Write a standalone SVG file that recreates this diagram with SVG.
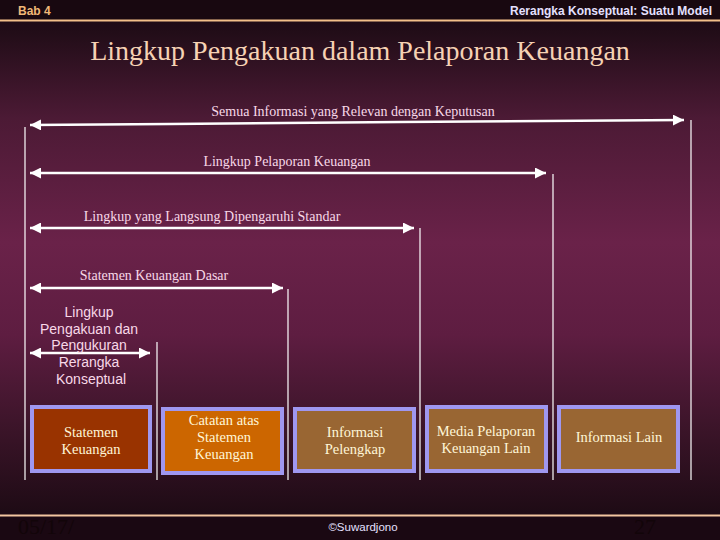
<svg xmlns="http://www.w3.org/2000/svg" width="720" height="540" viewBox="0 0 720 540">
<defs>
<linearGradient id="bg" x1="0" y1="0" x2="0" y2="1">
<stop offset="0" stop-color="#1a0812"/>
<stop offset="0.06" stop-color="#220d18"/>
<stop offset="0.22" stop-color="#4c1a35"/>
<stop offset="0.45" stop-color="#6a2249"/>
<stop offset="0.62" stop-color="#5e1d41"/>
<stop offset="0.8" stop-color="#3a1428"/>
<stop offset="0.95" stop-color="#1e0b15"/>
<stop offset="1" stop-color="#1a0812"/>
</linearGradient>
<marker id="ah" viewBox="0 0 10 10" refX="10" refY="5" markerWidth="11" markerHeight="11" markerUnits="userSpaceOnUse" orient="auto-start-reverse">
<path d="M0,0 L10,5 L0,10 Z" fill="#ffffff"/>
</marker>
<style>
.hdr{font-family:"Liberation Sans Narrow","Liberation Sans",Arial,sans-serif;font-weight:bold;font-size:12px}
.title{font-family:"Liberation Serif","Times New Roman",serif;font-size:28px;fill:#f6d2b4}
.lbl{font-family:"Liberation Serif","Times New Roman",serif;font-size:14px;fill:#f8d8e8}
.lbls{font-family:"Liberation Sans",Arial,sans-serif;font-size:14px;fill:#f8d8e8}
.arr{stroke:#ffffff;stroke-width:2.5;fill:none;marker-start:url(#ah);marker-end:url(#ah)}
.vl{stroke:#ffffff;stroke-width:1.2}
.box{stroke:#9f97f0;stroke-width:4}
.bt{font-family:"Liberation Serif","Times New Roman",serif;font-size:14.5px;fill:#fff6d8;text-anchor:middle}
.ft{font-family:"Liberation Serif","Times New Roman",serif;font-size:22px;fill:#120509}
</style>
</defs>
<rect width="720" height="540" fill="url(#bg)"/>
<rect width="720" height="20" fill="#180810"/>
<rect y="516" width="720" height="24" fill="#1a0812"/>
<line x1="0" y1="20.5" x2="720" y2="20.5" stroke="#f3c08a" stroke-width="2"/>
<line x1="0" y1="515.5" x2="720" y2="515.5" stroke="#f3c6a0" stroke-width="2"/>
<text class="hdr" x="18" y="15" fill="#f0b878">Bab 4</text>
<text class="hdr" x="712" y="15" fill="#e4e0ff" text-anchor="end">Rerangka Konseptual: Suatu Model</text>
<text class="title" x="360" y="60" text-anchor="middle">Lingkup Pengakuan dalam Pelaporan Keuangan</text>

<g id="connectors">
<line class="vl" x1="25" y1="127" x2="25" y2="480"/>
<line class="vl" x1="691" y1="120" x2="691" y2="480"/>
<line class="vl" x1="553" y1="174" x2="553" y2="480"/>
<line class="vl" x1="420" y1="228" x2="420" y2="480"/>
<line class="vl" x1="288" y1="289" x2="288" y2="480"/>
<line class="vl" x1="157" y1="342" x2="157" y2="480"/>
<polyline class="arr" points="30,125 170,124 400,122 684,120"/>
<line class="arr" x1="30" y1="173" x2="546" y2="173"/>
<line class="arr" x1="30" y1="228" x2="414" y2="228"/>
<line class="arr" x1="30" y1="288" x2="283" y2="288"/>
<line class="arr" x1="30" y1="353" x2="150" y2="353"/>
</g>

<g id="labels">
<text class="lbl" x="353" y="116" text-anchor="middle">Semua Informasi yang Relevan dengan Keputusan</text>
<text class="lbl" x="287" y="166" text-anchor="middle">Lingkup Pelaporan Keuangan</text>
<text class="lbl" x="212" y="221" text-anchor="middle">Lingkup yang Langsung Dipengaruhi Standar</text>
<text class="lbl" x="154" y="280" text-anchor="middle">Statemen Keuangan Dasar</text>
<text class="lbls" text-anchor="middle">
<tspan x="91" y="317">Lingkup</tspan>
<tspan x="91" y="334">Pengakuan dan</tspan>
<tspan x="91" y="350">Pengukuran</tspan>
<tspan x="91" y="367">Rerangka</tspan>
<tspan x="91" y="384">Konseptual</tspan>
</text>
</g>

<g id="node-statemen">
<rect class="box" x="32" y="407" width="118" height="64" fill="#993300"/>
<text class="bt"><tspan x="91" y="437">Statemen</tspan><tspan x="91" y="454">Keuangan</tspan></text>
</g>
<g id="node-catatan">
<rect class="box" x="163" y="409" width="119" height="64" fill="#cc6600"/>
<text class="bt"><tspan x="224" y="425">Catatan atas</tspan><tspan x="224" y="442">Statemen</tspan><tspan x="224" y="459">Keuangan</tspan></text>
</g>
<g id="node-pelengkap">
<rect class="box" x="295" y="409" width="119" height="62" fill="#996633"/>
<text class="bt"><tspan x="355" y="437">Informasi</tspan><tspan x="355" y="454">Pelengkap</tspan></text>
</g>
<g id="node-media">
<rect class="box" x="427" y="407" width="119" height="64" fill="#996633"/>
<text class="bt"><tspan x="486" y="436">Media Pelaporan</tspan><tspan x="486" y="453">Keuangan Lain</tspan></text>
</g>
<g id="node-lain">
<rect class="box" x="559" y="407" width="119" height="64" fill="#996633"/>
<text class="bt"><tspan x="619" y="442">Informasi Lain</tspan></text>
</g>

<text x="363" y="531" font-family="Liberation Sans, Arial, sans-serif" font-size="11.5" fill="#e4e0ff" text-anchor="middle">©Suwardjono</text>
<text class="ft" x="18" y="534">05/17/</text>
<text class="ft" x="634" y="534">27</text>
</svg>
